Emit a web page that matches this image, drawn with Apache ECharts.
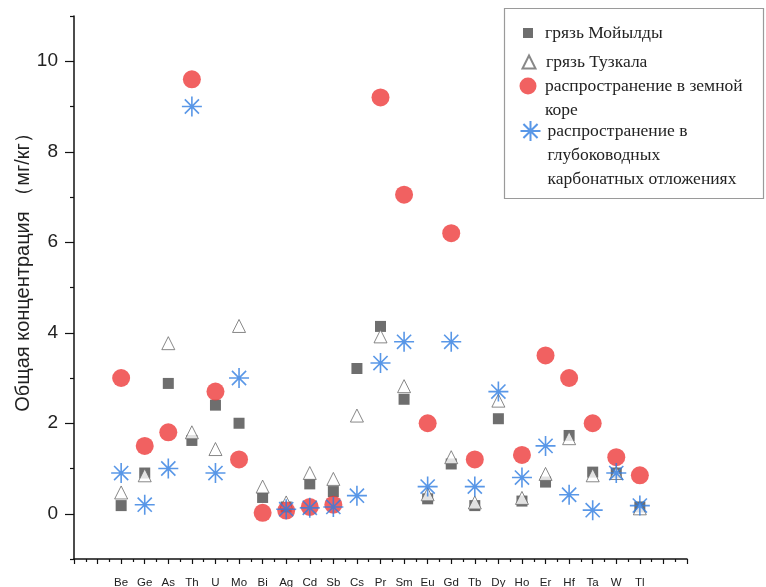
<!DOCTYPE html>
<html>
<head>
<meta charset="utf-8">
<script src="https://cdn.jsdelivr.net/npm/echarts@6/dist/echarts.min.js"></script>
<style>
  html, body { margin: 0; padding: 0; background: #fff; }
  #main { width: 766px; height: 587px; }
</style>
</head>
<body>
<div id="main"></div>
<script>
// элементы по оси X
var elements = ['Be', 'Ge', 'As', 'Th', 'U', 'Mo', 'Bi', 'Ag', 'Cd', 'Sb', 'Cs', 'Pr', 'Sm', 'Eu', 'Gd', 'Tb', 'Dy', 'Ho', 'Er', 'Hf', 'Ta', 'W', 'Tl'];

// грязь Мойылды
var moiyldy = [0.18, 0.9, 2.88, 1.62, 2.4, 2.0, 0.36, 0.15, 0.66, 0.49, 3.21, 4.14, 2.53, 0.33, 1.1, 0.18, 2.1, 0.28, 0.7, 1.73, 0.92, 0.9, 0.15];
// грязь Тузкала
var tuzkala = [0.47, 0.85, 3.77, 1.8, 1.43, 4.15, 0.6, 0.25, 0.9, 0.77, 2.17, 3.92, 2.82, 0.43, 1.25, 0.25, 2.5, 0.35, 0.88, 1.67, 0.85, 0.9, 0.12];
// распространение в земной коре
var crust = [3.0, 1.5, 1.8, 9.6, 2.7, 1.2, 0.02, 0.07, 0.15, 0.2, null, 9.2, 7.05, 2.0, 6.2, 1.2, null, 1.3, 3.5, 3.0, 2.0, 1.25, 0.85];
// распространение в глубоководных карбонатных отложениях
var deepSea = [0.9, 0.2, 1.0, 9.0, 0.9, 3.0, null, 0.1, 0.13, 0.15, 0.4, 3.33, 3.8, 0.6, 3.8, 0.6, 2.7, 0.8, 1.5, 0.42, 0.08, 0.9, 0.18];

var yLabels = [0, 2, 4, 6, 8, 10];

var names = ['грязь Мойылды', 'грязь Тузкала', 'распространение в земной коре', 'распространение в глубоководных карбонатных отложениях'];

// первый элемент стоит на позиции 2 оси X
function toPoints(arr) {
  var out = [];
  arr.forEach(function (v, i) {
    if (v !== null) out.push([i + 2, v]);
  });
  return out;
}

var starPath = 'path://M10 0L10 20M0 10L20 10M2.93 2.93L17.07 17.07M2.93 17.07L17.07 2.93';

// одна легенда на серию: значок по центру x=528, текст с x=545
function oneLegend(name, top, size, fmt) {
  return {
    data: [name],
    left: 528 - size / 2,
    top: top,
    orient: 'vertical',
    padding: 0,
    itemWidth: size,
    itemHeight: size,
    selectedMode: false,
    textStyle: {
      fontFamily: 'Liberation Serif',
      fontSize: 17.5,
      color: '#222',
      lineHeight: 24,
      padding: [0, 0, 0, 12 - size / 2]
    },
    formatter: function () { return fmt; }
  };
}

var myChart = echarts.init(document.getElementById('main'), null, { renderer: 'canvas' });

var option = {
  animation: false,
  backgroundColor: '#fff',
  grid: { left: 74, right: 79, top: 16, bottom: 28, outerBoundsMode: 'none' },
  legend: [
    oneLegend(names[0], 21, 10, 'грязь Мойылды'),
    oneLegend(names[1], 50, 13, 'грязь Тузкала'),
    oneLegend(names[2], 50, 17, '\nраспространение в земной\nкоре'),
    oneLegend(names[3], 71, 20, '\n\nраспространение в\nглубоководных\nкарбонатных отложениях')
  ],
  graphic: [{
    type: 'rect',
    z: -1,
    shape: { x: 504.5, y: 8.5, width: 259, height: 190 },
    style: { fill: '#fff', stroke: '#9a9a9a', lineWidth: 1.2 }
  }],
  xAxis: {
    type: 'value',
    min: 0,
    max: 26,
    interval: 1,
    splitLine: { show: false },
    axisLine: { onZero: false, lineStyle: { color: '#111', width: 1.5 } },
    axisTick: { length: 5, lineStyle: { color: '#111', width: 1.2 } },
    minorTick: { show: true, splitNumber: 2, length: 3, lineStyle: { color: '#111', width: 1.2 } },
    axisLabel: {
      margin: 18,
      fontFamily: 'Liberation Sans',
      fontSize: 11.5,
      color: '#222',
      formatter: function (v) { return elements[v - 2] || ''; }
    }
  },
  yAxis: {
    type: 'value',
    min: -1,
    max: 11,
    interval: 2,
    name: 'Общая концентрация （мг/кг）',
    nameLocation: 'middle',
    nameGap: 41,
    nameMoveOverlap: false,
    nameTextStyle: { fontFamily: 'Liberation Sans', fontSize: 20, color: '#222', padding: [0, 0, 0, 40] },
    splitLine: { show: false },
    axisLine: { show: true, onZero: false, lineStyle: { color: '#111', width: 1.5 } },
    axisTick: { length: 4, lineStyle: { color: '#111', width: 1.2 } },
    minorTick: { show: true, splitNumber: 2, length: 9, lineStyle: { color: '#111', width: 1.2 } },
    axisLabel: {
      customValues: yLabels,
      margin: 16,
      fontFamily: 'Liberation Sans',
      fontSize: 19,
      color: '#222'
    }
  },
  series: [
    {
      name: names[0],
      type: 'scatter',
      symbol: 'rect',
      symbolSize: 11,
      itemStyle: { color: '#4a4a4a' },
      data: toPoints(moiyldy)
    },
    {
      name: names[1],
      type: 'scatter',
      symbol: 'triangle',
      symbolSize: 13,
      itemStyle: { color: '#fff', borderColor: '#6a6a6a', borderWidth: 1 },
      data: toPoints(tuzkala)
    },
    {
      name: names[2],
      type: 'scatter',
      symbol: 'circle',
      symbolSize: 18,
      itemStyle: { color: '#ee3a3a' },
      data: toPoints(crust)
    },
    {
      name: names[3],
      type: 'scatter',
      symbol: starPath,
      symbolSize: 20,
      symbolKeepAspect: true,
      itemStyle: { color: 'none', borderColor: '#2f7de1', borderWidth: 1.6 },
      data: toPoints(deepSea)
    }
  ]
};

myChart.setOption(option);
</script>
</body>
</html>
